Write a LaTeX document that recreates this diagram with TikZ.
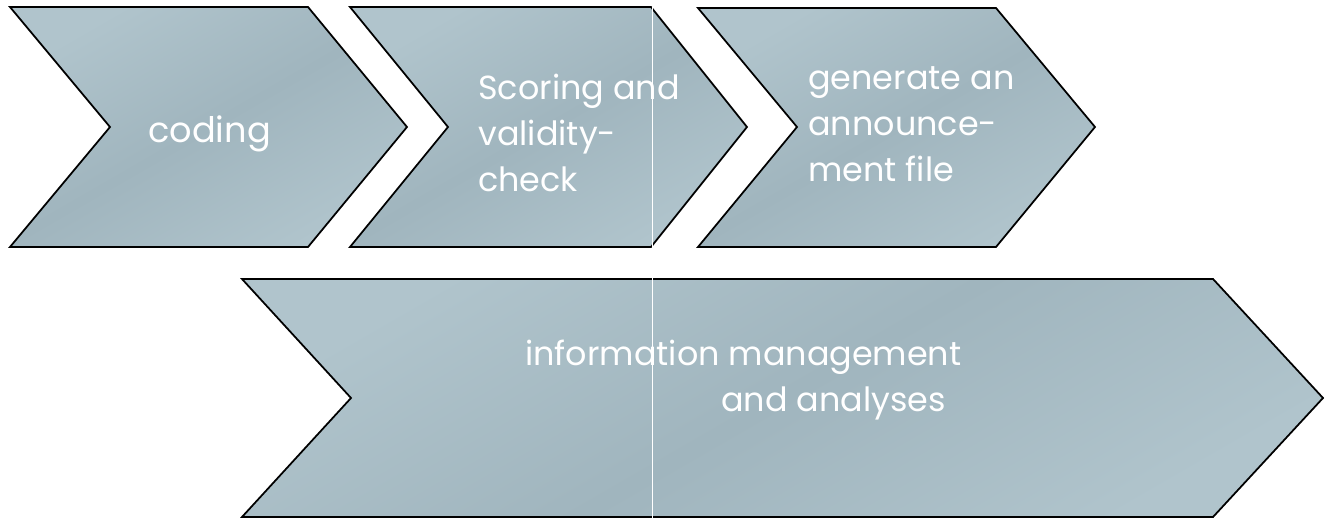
\documentclass[tikz,border=0pt]{standalone}
\usepackage{fontspec}
\setmainfont{Poppins}
\definecolor{stagelight}{HTML}{B0C4CC}
\definecolor{stagedark}{HTML}{A0B5BE}

\begin{document}
\begin{tikzpicture}[%
    x=0.02cm,
    y=-0.02cm,
    stage/.style={draw=black, line width=1pt, line join=miter,
      left color=stagelight, right color=stagelight, middle color=stagedark,
      shading angle=30},
    stagetext/.style={text=white, inner sep=0pt, anchor=base west, align=left},
    bigtext/.style={font=\fontsize{19}{26.2}\selectfont},
    smalltext/.style={font=\fontsize{19}{26.7}\selectfont}
  ]
    \useasboundingbox (0,0) rectangle (1328,519);

    % chevrons
    \draw[stage] (10,7) -- (308,7) -- (407,127) -- (308,247) -- (10,247) -- (110,127) -- cycle;
    \draw[stage] (350,7) -- (651,7) -- (747,127) -- (651,247) -- (350,247) -- (448,127) -- cycle;
    \draw[stage] (698,8) -- (996,8) -- (1095,127) -- (996,247) -- (698,247) -- (797,127) -- cycle;
    \draw[stage] (242,279) -- (1213,279) -- (1323,398) -- (1213,517) -- (242,517) -- (351,398) -- cycle;

    % labels (anchored at the baseline of the last line)
    \node[stagetext, font=\fontsize{20}{26}\selectfont] (coding) at (148,143) {coding};
    \node[stagetext, bigtext] (scoring) at (478,192) {Scoring and\\validity-\\check};
    \node[stagetext, bigtext] (announce) at (808,182) {generate an\\announce-\\ment file};
    \node[stagetext, smalltext] (analyses) at (525,412) {information management\\\hspace*{3.92cm}and analyses};

    \coordinate (seamtop) at (652,7);
    \coordinate (seambot) at (652,519);
    \draw[white, line width=0.5pt] (seamtop) -- (seambot);
\end{tikzpicture}
\end{document}
